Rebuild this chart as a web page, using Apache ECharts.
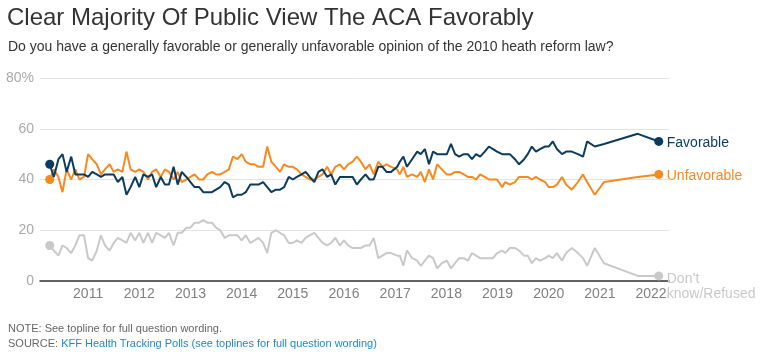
<!DOCTYPE html>
<html>
<head>
<meta charset="utf-8">
<script src="https://cdn.jsdelivr.net/npm/echarts@6/dist/echarts.min.js"></script>
<style>html,body{margin:0;padding:0;background:#fff}#c{width:768px;height:356px}</style>
</head>
<body>
<div id="c"></div>
<script>
// Poll dates as decimal years
const dates = [
  2010.25,2010.33,2010.42,2010.50,2010.58,2010.67,2010.75,2010.83,2010.92,
  2011.00,2011.08,2011.17,2011.25,2011.33,2011.42,2011.50,2011.58,2011.67,2011.75,2011.83,2011.92,
  2012.00,2012.08,2012.17,2012.25,2012.33,2012.42,2012.50,2012.58,2012.67,2012.75,2012.83,2012.92,
  2013.00,2013.08,2013.17,2013.25,2013.33,2013.42,2013.50,2013.58,2013.67,2013.75,2013.83,2013.92,
  2014.00,2014.08,2014.17,2014.25,2014.33,2014.42,2014.50,2014.58,2014.67,2014.75,2014.83,2014.92,
  2015.00,2015.08,2015.17,2015.25,2015.33,2015.42,2015.50,2015.58,2015.67,2015.75,2015.83,2015.92,
  2016.00,2016.08,2016.17,2016.25,2016.33,2016.42,2016.50,2016.58,2016.67,2016.75,2016.83,2016.92,
  2017.04,2017.09,2017.16,2017.23,2017.33,2017.43,2017.50,2017.58,2017.66,2017.74,2017.82,2017.91,
  2018.01,2018.09,2018.17,2018.25,2018.34,2018.42,2018.50,2018.58,2018.66,2018.75,2018.83,2018.91,2018.99,
  2019.09,2019.15,2019.24,2019.34,2019.42,2019.52,2019.59,2019.67,2019.75,2019.83,2019.93,
  2020.00,2020.08,2020.16,2020.26,2020.34,2020.45,2020.57,2020.67,2020.75,2020.90,
  2021.08,2021.74,2022.15
];
const favorable = [
  46,41,48,50,43,49,42,42,42,
  41,43,42,41,42,42,42,39,41,34,37,41,
  37,42,41,42,37,41,38,38,45,38,43,41,
  39,37,37,35,35,35,36,37,39,38,33,34,
  34,35,38,38,38,39,37,35,36,36,37,41,
  40,41,42,43,41,39,43,44,41,42,38,41,
  41,41,41,38,40,42,40,40,45,45,43,43,
  45,47,49,45,48,51,50,52,46,51,50,50,
  50,54,50,49,50,50,48,50,49,51,53,52,51,
  50,50,50,48,46,48,50,53,51,52,53,
  53,55,52,50,51,51,50,49,55,53,
  54,58,55
];
const unfavorable = [
  40,44,41,35,44,40,44,40,41,
  50,48,46,42,44,46,43,44,43,51,44,43,
  44,43,40,43,44,41,44,43,40,43,39,40,
  41,42,40,40,42,43,42,42,43,44,49,48,
  50,47,46,46,45,45,53,47,45,43,46,45,
  45,44,42,41,40,40,41,42,45,42,45,46,
  44,46,47,49,47,44,46,42,47,45,46,45,
  44,42,45,41,42,41,43,39,44,40,46,44,
  42,42,43,43,42,41,41,40,42,41,40,40,40,
  37,39,38,39,41,41,41,40,41,40,39,
  37,37,38,41,38,36,39,42,39,34,
  39,41,42
];
const dontKnow = [
  14,12,10,14,13,11,14,18,18,
  9,8,12,18,14,12,15,17,16,15,19,16,
  19,15,19,15,19,18,17,19,14,19,19,21,
  21,23,23,24,23,23,21,20,17,18,18,18,
  16,18,15,16,17,15,11,19,20,19,18,15,
  15,16,15,17,18,19,17,15,14,15,17,14,
  16,14,13,13,13,14,14,17,9,10,11,11,
  10,10,6,12,9,8,6,8,10,9,5,7,
  8,5,7,9,9,8,11,10,9,9,9,9,11,
  12,11,13,13,12,10,10,7,9,8,9,
  10,9,11,8,11,13,11,9,6,13,
  7,2,2
];
const yearTicks = [2011,2012,2013,2014,2015,2016,2017,2018,2019,2020,2021,2022];
const seriesNames = ['Favorable','Unfavorable','Don’t\nknow/Refused'];

const colors = {fav:'#0b3b5e', unfav:'#f7891f', dk:'#c9c9c9'};
const FONT = 'Arial, "Liberation Sans", sans-serif';
const zip = arr => dates.map((d,i)=>[d, arr[i]]);
const n = dates.length;
const endSym = (v, p) => (p.dataIndex === 0 || p.dataIndex === n-1) ? 9 : 0;

function mkSeries(name, arr, color, z, offset){
  return {
    type:'line', name, data: zip(arr), z,
    symbol:'circle', symbolSize: endSym, showSymbol:true, showAllSymbol:true,
    lineStyle:{color, width:2}, itemStyle:{color},
    emphasis:{disabled:true}, silent:true, animation:false,
    endLabel:{show:true, formatter: name, color, fontSize:14, fontFamily:FONT, distance:8, offset, lineHeight:15}
  };
}

const chart = echarts.init(document.getElementById('c'), null, {renderer:'canvas'});
chart.setOption({
  animation:false,
  title:[
    {text:'Clear Majority Of Public View The ACA Favorably', left:7, top:6, padding:0,
     textStyle:{fontSize:24, fontWeight:'normal', color:'#333', fontFamily:FONT}},
    {text:'Do you have a generally favorable or generally unfavorable opinion of the 2010 heath reform law?', left:8, top:40, padding:0,
     textStyle:{fontSize:14, fontWeight:'normal', color:'#333', fontFamily:FONT}}
  ],
  grid:{left:40, right:99, top:78, bottom:75, containLabel:false},
  xAxis:{
    type:'value', min:2010.06, max:2022.35,
    splitLine:{show:false}, axisTick:{show:false},
    axisLine:{show:true, lineStyle:{color:'#333', width:1.5}},
    axisLabel:{customValues: yearTicks, formatter: v => String(Math.round(v)), color:'#808080', fontSize:14, fontFamily:FONT, margin:6}
  },
  yAxis:{
    type:'value', min:0, max:80, interval:20,
    axisLine:{show:false}, axisTick:{show:false},
    splitLine:{lineStyle:{color:'#e3e3e3', width:1}},
    axisLabel:{formatter: v => v === 80 ? '80%' : String(v), color:'#aaa', fontSize:14, fontFamily:FONT, margin:6}
  },
  series:[
    mkSeries(seriesNames[2], dontKnow, colors.dk, 2, [0, 11]),
    mkSeries(seriesNames[1], unfavorable, colors.unfav, 3, [0, 2]),
    mkSeries(seriesNames[0], favorable, colors.fav, 4, [0, 2])
  ],
  graphic:[
    {type:'text', left:8, top:323, style:{text:'NOTE: See topline for full question wording.', fill:'#666', fontSize:11, fontFamily:FONT}},
    {type:'text', left:8, top:338, style:{text:'{a|SOURCE: }{b|KFF Health Tracking Polls (see toplines for full question wording)}', fontSize:11, fontFamily:FONT,
      rich:{a:{fill:'#666', fontSize:11, fontFamily:FONT}, b:{fill:'#1a8ad4', fontSize:11, fontFamily:FONT}}}}
  ]
});
</script>
</body>
</html>
